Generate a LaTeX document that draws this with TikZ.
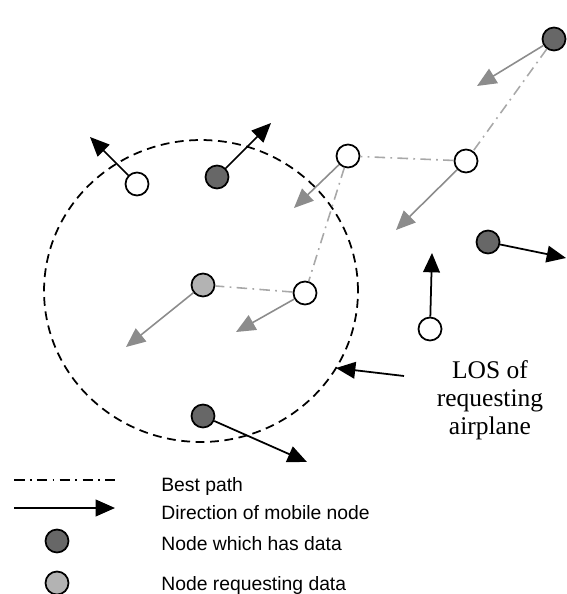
\documentclass[tikz,border=0pt]{standalone}
\usepackage{fontspec}
\setmainfont{Liberation Serif}
\setsansfont{Liberation Sans}
\usetikzlibrary{arrows.meta}
\definecolor{datagray}{HTML}{676767}
\definecolor{reqgray}{HTML}{B3B3B3}
\definecolor{arrowgray}{HTML}{8C8C8C}
\definecolor{pathgray}{HTML}{A8A8A8}
\tikzset{
  mnode/.style={circle,draw,line width=1pt,minimum size=0.46cm,inner sep=0pt},
  hasdata/.style={mnode,fill=datagray},
  reqdata/.style={mnode,fill=reqgray},
  freenode/.style={mnode,fill=white},
  move/.style={-{Triangle[length=11pt,width=9.5pt]},line width=1pt},
  drift/.style={move,line width=0.9pt,draw=arrowgray,fill=arrowgray},
  bestpath/.style={draw=pathgray,line width=0.9pt,dash pattern=on 6pt off 3pt on 1pt off 3pt},
  legtext/.style={anchor=base west,font=\sffamily\fontsize{11}{13}\selectfont,inner sep=0pt}
}
\begin{document}
\begin{tikzpicture}[x=0.02cm,y=-0.02cm]
\useasboundingbox (0,0) rectangle (566,594);

% line of sight
\draw[line width=1pt,dash pattern=on 5pt off 3.2pt] (201,291) ellipse [x radius=3.14cm,y radius=3.02cm];

\node[hasdata] (tr) at (554,39) {};
\node[freenode] (pa) at (466,161) {};
\node[freenode] (pb) at (348,156) {};
\node[freenode] (pc) at (305,293) {};
\node[reqdata] (req) at (203,285) {};
\node[freenode] (ul) at (137,184) {};
\node[hasdata] (um) at (217,177) {};
\node[hasdata] (rt) at (488,242) {};
\node[freenode] (rb) at (430,329) {};
\node[hasdata] (bm) at (203,416) {};

\draw[bestpath] (tr) -- (pa) -- (pb) -- (pc) -- (req);

\coordinate (trto) at (477,86);
\coordinate (pato) at (396,230);
\coordinate (pbto) at (294,208);
\coordinate (pcto) at (236,332);
\coordinate (reqto) at (126,347);
\draw[drift] (tr) -- (trto);
\draw[drift] (pa) -- (pato);
\draw[drift] (pb) -- (pbto);
\draw[drift] (pc) -- (pcto);
\draw[drift] (req) -- (reqto);

\coordinate (ulto) at (90,137);
\coordinate (umto) at (271,123);
\coordinate (rtto) at (566,258);
\coordinate (rbto) at (432,253);
\coordinate (bmto) at (307,462);
\draw[move] (ul) -- (ulto);
\draw[move] (um) -- (umto);
\draw[move] (rt) -- (rtto);
\draw[move] (rb) -- (rbto);
\draw[move] (bm) -- (bmto);

\node[align=center,font=\fontsize{14.5}{16}\selectfont,inner sep=0pt] (los) at (490,400) {LOS of\\requesting\\airplane};
\coordinate (lostail) at (404,376);
\coordinate (losedge) at (336,368);
\draw[move] (lostail) -- (losedge);

% legend
\coordinate (lgpa) at (14,480);
\coordinate (lgpb) at (115,480);
\coordinate (lgma) at (14,508);
\coordinate (lgmb) at (115,508);
\draw[bestpath,draw=black] (lgpa) -- (lgpb);
\draw[move] (lgma) -- (lgmb);
\node[hasdata] (lgdata) at (57,541) {};
\node[reqdata] (lgreq) at (57,583) {};
\node[legtext] (lgt1) at (161,491) {Best path};
\node[legtext] (lgt2) at (161,519) {Direction of mobile node};
\node[legtext] (lgt3) at (161,550) {Node which has data};
\node[legtext] (lgt4) at (161,590) {Node requesting data};
\end{tikzpicture}
\end{document}
